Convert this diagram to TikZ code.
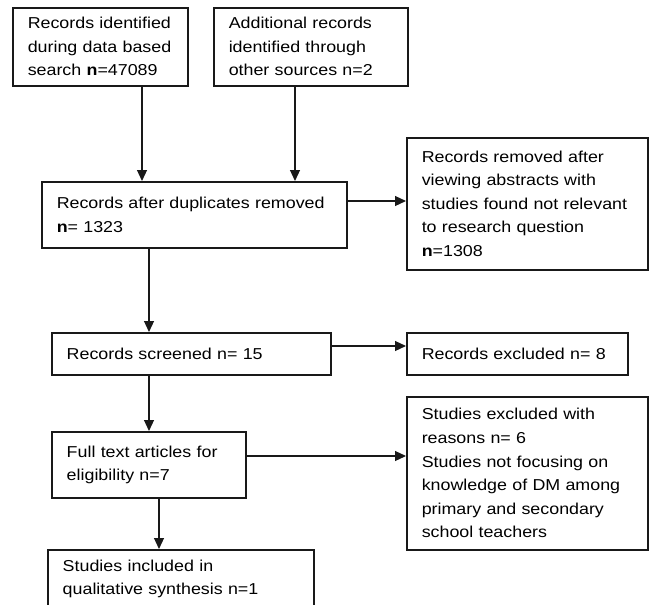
\documentclass[tikz,border=0pt]{standalone}
\usepackage{fontspec}
\setmainfont[FakeStretch=1.13,WordSpace=0.55]{Liberation Sans}
\usetikzlibrary{arrows.meta}
\begin{document}
\begin{tikzpicture}[x=1pt,y=-1pt,
  box/.style={draw=black!90, line width=1.5pt, anchor=north west, align=left,
    inner xsep=15pt, inner ysep=0pt, text=black,
    font=\fontsize{15.8pt}{23.6pt}\selectfont},
  arr/.style={draw=black!90, line width=1.2pt, -{Triangle[length=11pt,width=10pt]}}]
\useasboundingbox (0,0) rectangle (649,605);
\fill[white] (0,0) rectangle (649,605);
% boxes: (x1,y1), width, height
\node[box, text width=145pt, minimum width=175pt, minimum height=78pt] (b1) at (12,7)
  {Records identified\\during data based\\search \textbf{n}=47089};
\node[box, text width=164pt, minimum width=194pt, minimum height=78pt] (b2) at (213,7)
  {Additional records\\identified through\\other sources n=2};
\node[box, text width=275pt, minimum width=305pt, minimum height=66pt] (b3) at (41,181)
  {Records after duplicates removed\\\textbf{n}= 1323};
\node[box, text width=211pt, minimum width=241pt, minimum height=132pt] (b4) at (406,137)
  {Records removed after\\viewing abstracts with\\studies found not relevant\\to research question\\\textbf{n}=1308};
\node[box, text width=249pt, minimum width=279pt, minimum height=42pt] (b5) at (51,332)
  {Records screened n= 15};
\node[box, text width=191pt, minimum width=221pt, minimum height=42pt] (b6) at (406,332)
  {Records excluded n= 8};
\node[box, text width=164pt, minimum width=194pt, minimum height=66pt] (b7) at (51,431)
  {Full text articles for\\eligibility n=7};
\node[box, text width=211pt, minimum width=241pt, minimum height=153pt] (b8) at (406,396)
  {Studies excluded with\\reasons n= 6\\Studies not focusing on\\knowledge of DM among\\primary and secondary\\school teachers};
\node[box, text width=236pt, minimum width=264pt, minimum height=58pt] (b9) at (47,549)
  {Studies included in\\qualitative synthesis n=1};
% connectors
\draw[arr] ([xshift=130]b1.south west) -- ([xshift=101]b3.north west);
\draw[arr] ([xshift=82]b2.south west) -- ([xshift=254]b3.north west);
\draw[arr] ([yshift=-20]b3.north east) -- ([yshift=-64]b4.north west);
\draw[arr] ([xshift=108]b3.south west) -- ([xshift=98]b5.north west);
\draw[arr] ([yshift=-14]b5.north east) -- ([yshift=-14]b6.north west);
\draw[arr] ([xshift=98]b5.south west) -- ([xshift=98]b7.north west);
\draw[arr] ([yshift=-25]b7.north east) -- ([yshift=-60]b8.north west);
\draw[arr] ([xshift=108]b7.south west) -- ([xshift=112]b9.north west);
\end{tikzpicture}
\end{document}
